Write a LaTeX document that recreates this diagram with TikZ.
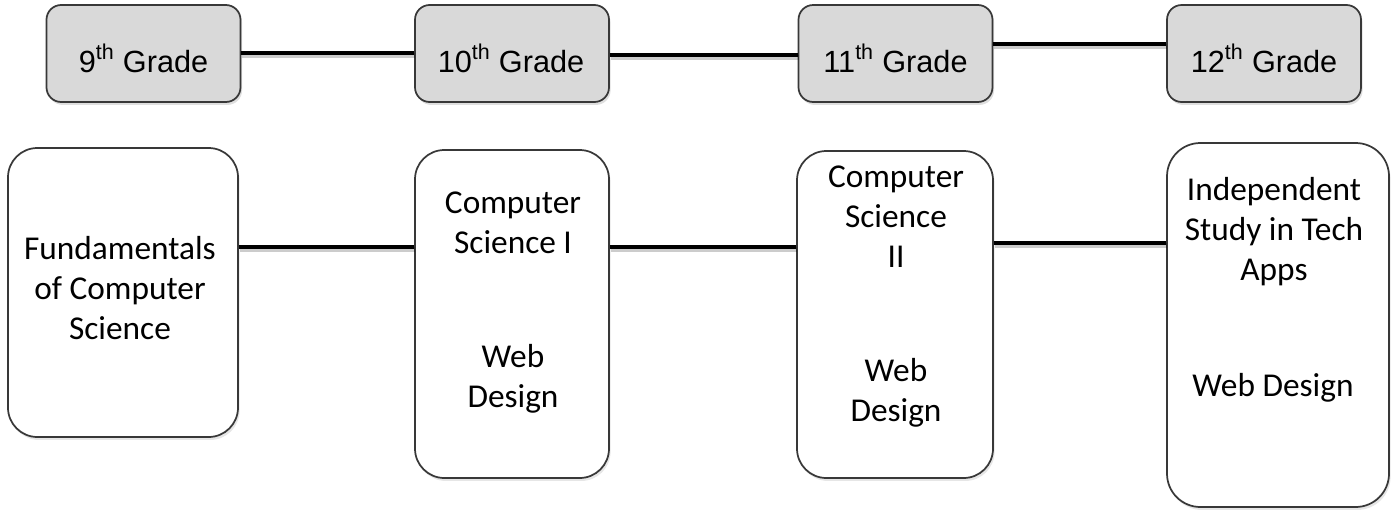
\documentclass[tikz,border=0pt]{standalone}
\usepackage{fontspec}
\setmainfont{Carlito}
\newfontfamily\gradefont{Liberation Sans}
\usetikzlibrary{shadows}
\definecolor{boxgray}{HTML}{D9D9D9}
\definecolor{edge}{HTML}{383838}
\begin{document}
\begin{tikzpicture}[x=0.75pt,y=-0.75pt,
  gbox/.style={draw=edge, line width=1.3pt, fill=boxgray, rounded corners=11pt,
    minimum width=145.5pt, minimum height=72.75pt, inner sep=0pt,
    drop shadow={opacity=0.25, shadow xshift=1.2pt, shadow yshift=-2.2pt}},
  cbox/.style={draw=edge, line width=1.3pt, fill=white, rounded corners=22pt,
    inner sep=0pt,
    drop shadow={opacity=0.2, shadow xshift=1.2pt, shadow yshift=-2.2pt}},
  gtxt/.style={font=\gradefont\fontsize{23}{27}\selectfont, anchor=base, inner sep=0pt},
  ctxt/.style={font=\fontsize{25}{30}\selectfont, align=center, inner sep=0pt},
  conn/.style={line width=3.4pt, black,
    preaction={draw=black, draw opacity=0.2, line width=3.4pt, transform canvas={xshift=0.8pt, yshift=-1.8pt}}}]
\useasboundingbox (0,0) rectangle (1399,511);
% grade boxes
\node[gbox] (g9)  at (143.5,53.5) {};
\node[gbox] (g10) at (512,53.5) {};
\node[gbox] (g11) at (895.5,53.5) {};
\node[gbox] (g12) at (1264,53.5) {};
\node[gtxt] (t9)  at (143.5,72) {9\textsuperscript{th} Grade};
\node[gtxt] (t10) at (511,72) {10\textsuperscript{th} Grade};
\node[gtxt] (t11) at (895.5,72) {11\textsuperscript{th} Grade};
\node[gtxt] (t12) at (1264,72) {12\textsuperscript{th} Grade};
% course boxes
\node[cbox, minimum width=172.5pt, minimum height=216.75pt] (f)  at (123,292.5) {};
\node[cbox, minimum width=145.5pt, minimum height=246pt]    (c1) at (512,314) {};
\node[cbox, minimum width=147pt,   minimum height=245.25pt] (c2) at (895,314.5) {};
\node[cbox, minimum width=166.5pt, minimum height=273pt, rounded corners=25pt] (c3) at (1278,325) {};
\node[ctxt] (tf)  at (120,288) {Fundamentals\\of Computer\\Science};
\node[ctxt] (tc1) at (513,222.5) {Computer\\Science I};
\node[ctxt] (tw1) at (513,378.5) {Web\\Design};
\node[ctxt] (tc2) at (896,217) {Computer\\Science\\II};
\node[ctxt] (tw2) at (896,393) {Web\\Design};
\node[ctxt] (tc3) at (1274,232) {Independent\\Study in Tech\\Apps};
\node[ctxt] (tw3) at (1273,388) {Web Design};
% connectors
\draw[conn] (g9.east |- 0,53) -- (g10.west |- 0,53);
\draw[conn] (g10.east |- 0,55) -- (g11.west |- 0,55);
\draw[conn] (g11.east |- 0,44) -- (g12.west |- 0,44);
\draw[conn] (f.east |- 0,247) -- (c1.west |- 0,247);
\draw[conn] (c1.east |- 0,247) -- (c2.west |- 0,247);
\draw[conn] (c2.east |- 0,243) -- (c3.west |- 0,243);
\end{tikzpicture}
\end{document}
